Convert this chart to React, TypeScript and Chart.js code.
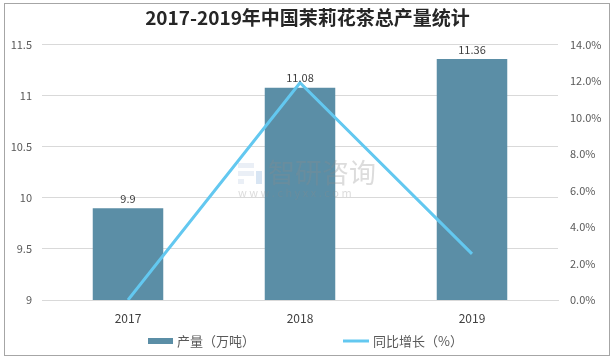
import React, { useEffect, useRef } from "react";
import { Chart, registerables } from "chart.js";

Chart.register(...registerables);

const categories = ["2017", "2018", "2019"];
const outputValues = [9.9, 11.08, 11.36];
const growthValues = [0, 11.92, 2.53];
const titleText = "2017-2019年中国茉莉花茶总产量统计";
const barLabel = "产量（万吨）";
const lineLabel = "同比增长（%）";

const BAR_COLOR = "#5b8ea6";
const LINE_COLOR = "#63c8f0";
const FONT = "'Noto Sans CJK SC', 'Liberation Sans', sans-serif";

const valueLabelPlugin = {
  id: "valueLabels",
  afterDatasetsDraw(chart: any) {
    const ctx = chart.ctx;
    const meta = chart.getDatasetMeta(0);
    ctx.save();
    ctx.font = `11px ${FONT}`;
    ctx.fillStyle = "#404040";
    ctx.textAlign = "center";
    ctx.textBaseline = "bottom";
    meta.data.forEach((el: any, i: number) => {
      ctx.fillText(String(outputValues[i]), el.x, el.y - 4);
    });
    ctx.restore();
  },
};

const legendPlugin = {
  id: "customLegend",
  afterDraw(chart: any) {
    const ctx = chart.ctx;
    const y = chart.chartArea.bottom + 41;
    ctx.save();
    ctx.font = `13px ${FONT}`;
    ctx.textAlign = "left";
    ctx.textBaseline = "middle";
    ctx.fillStyle = BAR_COLOR;
    ctx.fillRect(148, y - 3, 25, 6);
    ctx.fillStyle = "#595959";
    ctx.fillText(barLabel, 177, y);
    ctx.strokeStyle = LINE_COLOR;
    ctx.lineWidth = 3;
    ctx.beginPath();
    ctx.moveTo(343, y);
    ctx.lineTo(369, y);
    ctx.stroke();
    ctx.fillText(lineLabel, 373, y);
    ctx.restore();
  },
};

const watermarkPlugin = {
  id: "watermark",
  afterDraw(chart: any) {
    const ctx = chart.ctx;
    ctx.save();
    ctx.globalAlpha = 0.3;
    ctx.fillStyle = "#8a8a8a";
    ctx.textAlign = "left";
    ctx.textBaseline = "middle";
    ctx.font = `27px ${FONT}`;
    ctx.fillText("智研咨询", 268, 173);
    ctx.font = `11px ${FONT}`;
    ctx.fillText("w w w . c h y x x . c o m", 238, 193);
    ctx.fillStyle = "#b8cbe0";
    ctx.fillRect(238, 163, 16, 5);
    ctx.fillRect(238, 171, 16, 5);
    ctx.fillRect(238, 179, 6, 5);
    ctx.fillStyle = "#7fa8d8";
    ctx.fillRect(256, 171, 6, 13);
    ctx.restore();
  },
};

export default function App() {
  const ref = useRef<HTMLCanvasElement>(null);
  useEffect(() => {
    if (!ref.current) return;
    const chart = new Chart(ref.current, {
      type: "bar",
      data: {
        labels: categories,
        datasets: [
          {
            type: "bar",
            label: barLabel,
            data: outputValues,
            backgroundColor: BAR_COLOR,
            yAxisID: "y",
            categoryPercentage: 1,
            barPercentage: 0.41,
            order: 2,
          },
          {
            type: "line",
            label: lineLabel,
            data: growthValues,
            borderColor: LINE_COLOR,
            backgroundColor: LINE_COLOR,
            borderWidth: 3,
            pointRadius: 0,
            tension: 0,
            yAxisID: "y1",
            order: 1,
          } as any,
        ],
      },
      options: {
        animation: false,
        responsive: false,
        maintainAspectRatio: false,
        layout: { padding: { top: 4, left: 4, right: 4, bottom: 30 } },
        plugins: {
          title: {
            display: true,
            text: titleText,
            color: "#262626",
            font: { family: FONT, size: 19, weight: "bold" },
            padding: { top: 2, bottom: 16 },
          },
          legend: { display: false },
          tooltip: { enabled: false },
        },
        scales: {
          x: {
            grid: { display: false },
            border: { display: true, color: "#d9d9d9" },
            ticks: {
              color: "#404040",
              font: { family: FONT, size: 12 },
              padding: 3,
            },
            afterFit: (s: any) => {
              s.height = 30;
            },
          },
          y: {
            position: "left",
            min: 9,
            max: 11.5,
            ticks: {
              stepSize: 0.5,
              color: "#595959",
              font: { family: FONT, size: 11 },
              padding: 10,
              callback: (v: any) => String(Number(v)),
            },
            grid: { color: "#d9d9d9", drawTicks: false },
            border: { display: false },
            afterFit: (s: any) => {
              s.width = 38;
            },
          },
          y1: {
            position: "right",
            min: 0,
            max: 14,
            ticks: {
              stepSize: 2,
              color: "#595959",
              font: { family: FONT, size: 11 },
              padding: 12,
              callback: (v: any) => Number(v).toFixed(1) + "%",
            },
            grid: { display: false, drawTicks: false },
            border: { display: false },
            afterFit: (s: any) => {
              s.width = 53;
            },
          },
        },
      } as any,
      plugins: [valueLabelPlugin, legendPlugin, watermarkPlugin],
    });
    return () => chart.destroy();
  }, []);

  return (
    <div
      style={{
        position: "fixed",
        left: 0,
        top: 0,
        width: 615,
        height: 360,
        background: "#fff",
      }}
    >
      <div
        style={{
          position: "absolute",
          left: 4,
          top: 3,
          width: 606,
          height: 353,
          border: "1px solid #a6a6a6",
          boxSizing: "border-box",
        }}
      />
      <canvas
        ref={ref}
        width={615}
        height={360}
        style={{ position: "absolute", left: 0, top: 0 }}
      />
    </div>
  );
}
